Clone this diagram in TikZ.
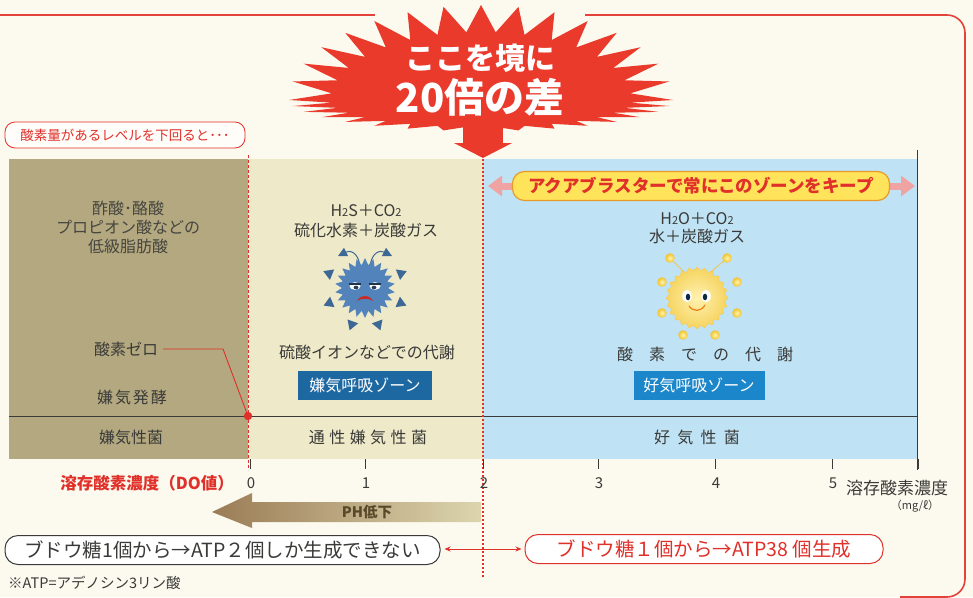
\documentclass[tikz,border=0pt]{standalone}
\usepackage{fontspec}
\setmainfont{Noto Sans CJK JP}
\usetikzlibrary{arrows.meta,shapes.geometric}
\definecolor{bg}{HTML}{FCFAEF}
\definecolor{frame}{HTML}{E2423A}
\definecolor{burst}{HTML}{EA3A2C}
\definecolor{olive}{HTML}{B3A87F}
\definecolor{cream}{HTML}{EEE9C8}
\definecolor{sky}{HTML}{BFE3F5}
\definecolor{ink}{HTML}{3A3A38}
\definecolor{dred}{HTML}{E0302A}
\definecolor{navy}{HTML}{1E68A2}
\definecolor{azure}{HTML}{1C86CB}
\definecolor{banner}{HTML}{FFE35A}
\definecolor{bannerline}{HTML}{E79A2A}
\definecolor{pinkarrow}{HTML}{EFA3A3}
\definecolor{germ}{HTML}{5283BA}
\definecolor{germdark}{HTML}{3D6795}
\definecolor{sun}{HTML}{F5D35E}
\definecolor{sunlight}{HTML}{FFF1B0}
\definecolor{sunball}{HTML}{F2C230}
\definecolor{sunballlight}{HTML}{FFF4A8}
\definecolor{phdark}{HTML}{9A7C55}
\definecolor{phlight}{HTML}{DCD5AE}
\definecolor{phtext}{HTML}{594829}
\newcommand\fsz[1]{\fontsize{#1}{#1}\selectfont}
\tikzset{
  lbl/.style={text=ink, align=center, inner sep=0pt, font=\fsz{16}},
  zonebox/.style={text=white, minimum height=29pt, inner sep=0pt, font=\fsz{16}},
  tick/.style={ink, line width=0.7pt},
  ticklbl/.style={text=ink, inner sep=0pt, font=\fsz{15}},
  pill/.style={rounded corners=13pt, inner sep=0pt, minimum height=29pt, fill=white},
  redline/.style={dred, line width=0.9pt},
}
\begin{document}
\begin{tikzpicture}[x=1pt,y=-1pt]
\useasboundingbox (0,0) rectangle (973,597);
\fill[bg] (0,0) rectangle (973,597);

% outer red frame
\draw[frame, line width=1.6pt] (0,15) -- (375,15);
\draw[frame, line width=1.6pt, rounded corners=18pt] (585,15) -- (965,15) -- (965,597) -- (900,597);

% three oxygen zones
\fill[olive] (9,159) rectangle (248,459);
\fill[cream] (248,159) rectangle (483,459);
\fill[sky] (483,159) rectangle (917,459);
\draw[ink, line width=0.8pt] (9,416) -- (917,416);
\draw[ink, line width=0.8pt] (917,150) -- (917,470);

% starburst headline
\foreach \i in {0,...,31}{
  \pgfmathsetmacro\a{90+\i*11.25}
  \pgfmathsetmacro\b{\a+5.625}
  \pgfmathsetmacro\rt{sin(\a)>=0 ? 95 : 31}
  \pgfmathsetmacro\rv{sin(\b)>=0 ? 68 : 27}
  \coordinate (bt\i) at ({481+192*cos(\a)}, {100-\rt*sin(\a)});
  \coordinate (bv\i) at ({481+150*cos(\b)}, {100-\rv*sin(\b)});
}
\fill[burst] (bt0) \foreach \i in {1,...,31}{ -- (bv\the\numexpr\i-1\relax) -- (bt\i) } -- (bv31) -- cycle;
\fill[burst] (463,120) rectangle (503,144);
\fill[burst] (454,143) -- (512,143) -- (483,158) -- cycle;
\node[text=white, font=\fsz{30}\bfseries] (head1) at (480,58) {ここを境に};
\node[text=white, font=\fsz{40}\bfseries] (head2) at (480,97) {20倍の差};

% boundary lines
\draw[dred, line width=0.8pt, dash pattern=on 3pt off 2pt] (248,155) -- (248,470);
\draw[dred, line width=2.2pt, dash pattern=on 2pt off 2pt] (483,155) -- (483,578);

% heading tag
\node[draw=dred, line width=0.8pt, rounded corners=10pt, fill=white!60!bg, minimum width=240pt, minimum height=26pt,
      inner sep=0pt, text=dred, font=\fsz{13.5}] (tag) at (125,135) {酸素量があるレベルを下回ると･･･};

% anaerobic fermentation zone
\node[lbl, text=ink!90!olive] (acids) at (128,227) {酢酸･酪酸\\[3pt]プロピオン酸などの\\[3pt]低級脂肪酸};
\node[lbl] (zero) at (126,349) {酸素ゼロ};
\node[lbl, font=\fsz{16}\addfontfeature{LetterSpace=12}] (ferment) at (132,397) {嫌気発酵};
\node[lbl] (anaer) at (131,437) {嫌気性菌};
\coordinate (zbend) at (223,349);
\fill[dred] (248,416) circle (4.2);
\coordinate (zdot) at (248,416);
\draw[redline] (zero.east) ++(5,0) -- (zbend) -- (zdot);

% anaerobic respiration zone
\node[lbl] (h2s) at (366,221) {H{\fsz{11}2}S＋CO{\fsz{11}2}\\[4pt]硫化水素＋炭酸ガス};
\node[lbl] (sulf) at (367,352) {硫酸イオンなどでの代謝};
\node[zonebox, fill=navy, minimum width=134pt] (anaerzone) at (365,385) {嫌気呼吸ゾーン};
\node[lbl, font=\fsz{16}\addfontfeature{LetterSpace=28}] (facult) at (368,437) {通性嫌気性菌};

% unhappy germ
\foreach \ang in {22,158,203,337,250,290}{
  \fill[germdark] ({365+45*cos(\ang)},{288-45*sin(\ang)}) -- ({365+36*cos(\ang+9)},{288-36*sin(\ang+9)}) -- ({365+36*cos(\ang-9)},{288-36*sin(\ang-9)}) -- cycle;
}
\draw[germ!70!white, line width=1pt, -{Triangle[length=9pt,width=9pt]}, germdark] (360,266) .. controls (358,252) and (350,250) .. (338,256);
\draw[germ!70!white, line width=1pt, -{Triangle[length=9pt,width=9pt]}, germdark] (370,266) .. controls (372,252) and (380,250) .. (392,256);
\node[star, star points=22, star point ratio=1.3, minimum size=60pt, inner sep=0pt, fill=germ] (germbody) at (365,288) {};
\fill[white] (355,286) ellipse (5.5 and 3.8);
\fill[white] (375,286) ellipse (5.5 and 3.8);
\fill[germdark!60!black] (356,287.5) ellipse (2.4 and 1.8);
\fill[germdark!60!black] (374,287.5) ellipse (2.4 and 1.8);
\draw[germdark!50!black, line width=1.3pt] (349,284) -- (361,284);
\draw[germdark!50!black, line width=1.3pt] (369,284) -- (381,284);
\fill[dred!90!black] (357,301) .. controls (361,294) and (369,294) .. (373,301) .. controls (369,298) and (361,298) .. cycle;

% aerobic respiration zone
\draw[pinkarrow, line width=7pt, {Triangle[length=14pt,width=20pt]}-{Triangle[length=14pt,width=20pt]}] (488,186) coordinate (keepl) -- (915,186) coordinate (keepr);
\node[draw=bannerline, line width=1.2pt, fill=banner, rounded corners=12pt, minimum width=377pt, minimum height=29pt,
      inner sep=0pt, text=dred, font=\fsz{17.5}\bfseries] (keep) at (701,186) {アクアブラスターで常にこのゾーンをキープ};
\node[lbl] (h2o) at (697,228) {H{\fsz{11}2}O＋CO{\fsz{11}2}\\[2pt]水＋炭酸ガス};
\node[lbl, font=\fsz{16}\addfontfeature{LetterSpace=100}] (oxy) at (705,354) {酸素での代謝};
\node[zonebox, fill=azure, minimum width=131pt] (aerzone) at (699,385) {好気呼吸ゾーン};
\node[lbl, font=\fsz{16}\addfontfeature{LetterSpace=45}] (aerob) at (697,437) {好気性菌};

% happy sun
\draw[sun!85!brown, line width=0.9pt] (688,276) -- (671,259);
\draw[sun!85!brown, line width=0.9pt] (706,276) -- (726,259);
\foreach \p in {(670,258),(727,258),(662,282),(737,282),(662,313),(737,313),(683,335),(715,335)}{
  \shade[inner color=sunballlight, outer color=sunball] \p circle (4.8);
}
\node[star, star points=24, star point ratio=1.12, minimum size=62pt, inner sep=0pt, inner color=sunlight, outer color=sun, shade, draw=sun!90!orange, line width=0.4pt] (sunbody) at (697,298) {};
\fill[white] (687,296) ellipse (4.8 and 6.2);
\fill[white] (706,296) ellipse (4.8 and 6.2);
\fill[navy!40!black] (688,297) ellipse (2.2 and 3.3);
\fill[navy!40!black] (705,297) ellipse (2.2 and 3.3);
\draw[orange!70!brown, line width=1.2pt, line cap=round] (689,306) .. controls (693,312) and (701,312) .. (705,305);

% dissolved oxygen axis
\foreach \x/\v in {250/0,365/1,483/2,598/3,715/4,832/5}{
  \draw[tick] (\x,459) -- (\x,469);
  \node[ticklbl] (tick\v) at (\x+1,483) {\v};
}
\draw[tick] (918,459) -- (918,469);
\node[inner sep=0pt, text=dred, font=\fsz{16.5}\bfseries, anchor=east] (dolbl) at (234,483) {溶存酸素濃度（DO値）};
\node[inner sep=0pt, text=ink, font=\fsz{17}, anchor=west] (dounit) at (846,488) {溶存酸素濃度};
\node[inner sep=0pt, text=ink, font=\fsz{11}] (mgl) at (915,506) {（mg/ℓ）};

% pH drop arrow
\shade[left color=phdark, right color=phlight] (481,502) -- (252,502) -- (252,493) -- (212,512) -- (252,528) -- (252,522) -- (481,522) -- cycle;
\node[inner sep=0pt, text=phtext, font=\fsz{14.5}\bfseries] (ph) at (367,512) {PH低下};

% ATP yield comparison
\node[pill, draw=ink, line width=1pt, minimum width=435pt, text=ink, font=\fsz{19.5}] (atp2) at (222.5,550) {ブドウ糖1個から→ATP２個しか生成できない};
\node[pill, draw=dred, line width=1pt, minimum width=358pt, text=dred, font=\fsz{19.5}] (atp38) at (704,549) {ブドウ糖１個から→ATP38 個生成};
\draw[redline, line width=0.8pt, {Stealth[length=6pt,width=5pt]}-{Stealth[length=6pt,width=5pt]}] (atp2.east) ++(4,-1) -- ([xshift=-3pt]atp38.west);
\node[inner sep=0pt, text=ink, font=\fsz{14.5}, anchor=west] (note) at (8,583) {※ATP=アデノシン3リン酸};
\end{tikzpicture}
\end{document}
